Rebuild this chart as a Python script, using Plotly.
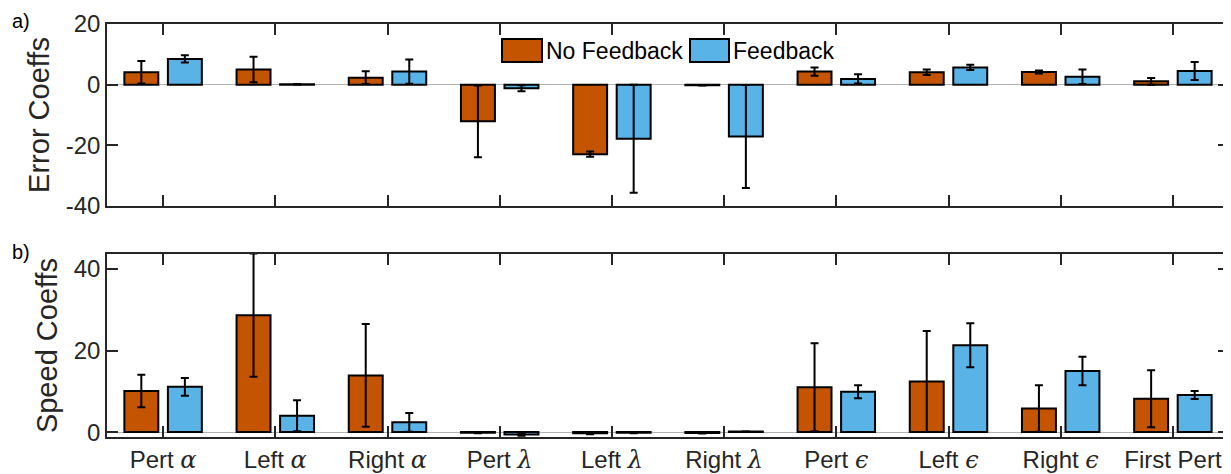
import plotly.graph_objects as go

# The page body has an 8px margin, so the figure is drawn 8px smaller and
# all layout pixel positions are shifted by that offset.
OFF = 8
W, H = 1231 - OFF, 474 - OFF

categories = ["Pert α", "Left α", "Right α", "Pert λ", "Left λ", "Right λ",
              "Pert ϵ", "Left ϵ", "Right ϵ", "First Pert"]

# panel a) Error coefficients
err_nofb = [4.1, 5.0, 2.3, -12.1, -22.9, -0.2, 4.3, 4.1, 4.2, 1.1]
err_nofb_sd = [3.7, 4.2, 2.1, 11.8, 0.9, 0.1, 1.4, 0.9, 0.5, 1.1]
err_fb = [8.5, 0.15, 4.3, -1.2, -17.8, -17.1, 1.9, 5.7, 2.6, 4.5]
err_fb_sd = [1.2, 0.1, 4.0, 1.0, 17.8, 17.0, 1.5, 0.9, 2.4, 3.0]

# panel b) Speed coefficients
spd_nofb = [10.1, 28.7, 13.9, -0.15, -0.3, -0.2, 11.0, 12.4, 5.8, 8.2]
spd_nofb_sd = [4.0, 15.1, 12.6, 0.1, 0.2, 0.15, 10.8, 12.4, 5.7, 7.0]
spd_fb = [11.1, 4.0, 2.4, -0.6, -0.15, 0.12, 9.9, 21.3, 15.0, 9.1]
spd_fb_sd = [2.2, 3.8, 2.3, 0.3, 0.1, 0.05, 1.6, 5.4, 3.5, 1.0]

err_ticks = [-40, -20, 0, 20]
err_ticktext = ["-40", "-20", "0", "20"]
spd_ticks = [0, 20, 40]

series_names = ["No Feedback", "Feedback"]
ORANGE = "#C45400"
BLUE = "#59B3E6"
TXT = "#262626"
FONT = "Liberation Sans, Arial, sans-serif"


def px(x):
    return (x - OFF) / W


def py(y):
    return 1 - (y - OFF) / H


def fmt(lbl):
    head, _, last = lbl.rpartition(" ")
    if last in ("α", "λ", "ϵ"):
        return (head + " <span style=\"font-family:'DejaVu Serif'\"><i>"
                + last + "</i></span>")
    return lbl


xpos = list(range(1, len(categories) + 1))
ticktext = [fmt(c) for c in categories]

fig = go.Figure()


def add_pair(vals_a, sd_a, vals_b, sd_b, xa, ya):
    for vals, sd, col, name in ((vals_a, sd_a, ORANGE, series_names[0]),
                                (vals_b, sd_b, BLUE, series_names[1])):
        fig.add_trace(go.Bar(
            x=xpos, y=vals, name=name, xaxis=xa, yaxis=ya,
            marker=dict(color=col, line=dict(color="black", width=2)),
            error_y=dict(type="data", array=sd, visible=True,
                         color="black", thickness=2, width=4),
            showlegend=False,
        ))


add_pair(err_nofb, err_nofb_sd, err_fb, err_fb_sd, "x", "y")
add_pair(spd_nofb, spd_nofb_sd, spd_fb, spd_fb_sd, "x2", "y2")

xdom = [px(107), px(1229)]
top_dom = [py(206), py(24)]
bot_dom = [py(437), py(254)]

axis_common = dict(showline=True, linecolor=TXT, linewidth=1.5, mirror="ticks",
                   ticks="inside", ticklen=11, tickwidth=1.5, tickcolor=TXT,
                   showgrid=False, automargin=False,
                   tickfont=dict(family=FONT, size=24, color=TXT))

fig.update_layout(
    width=W, height=H,
    margin=dict(l=0, r=0, t=0, b=0),
    paper_bgcolor="white", plot_bgcolor="white",
    barmode="group", bargap=0.224, bargroupgap=0.22,
    font=dict(family=FONT, color=TXT),
    xaxis=dict(domain=xdom, anchor="y", range=[0.5, 10.5], tickvals=xpos,
               showticklabels=False, zeroline=False, **axis_common),
    yaxis=dict(domain=top_dom, anchor="x", range=[-40, 20], tickvals=err_ticks,
               ticktext=err_ticktext, zeroline=True, zerolinecolor="#b3b3b3",
               zerolinewidth=1,
               title=dict(text="Error Coeffs", standoff=8,
                          font=dict(family=FONT, size=29, color=TXT)),
               **axis_common),
    xaxis2=dict(domain=xdom, anchor="y2", range=[0.5, 10.5], tickvals=xpos,
                ticktext=ticktext, zeroline=False, **axis_common),
    yaxis2=dict(domain=bot_dom, anchor="x2", range=[-1.2, 43.7],
                tickvals=spd_ticks, zeroline=True, zerolinecolor="#b3b3b3",
                zerolinewidth=1,
                title=dict(text="Speed Coeffs", standoff=8,
                           font=dict(family=FONT, size=29, color=TXT)),
                **axis_common),
)

# panel labels
for txt, yy in (("a)", 21), ("b)", 252)):
    fig.add_annotation(text=txt, xref="paper", yref="paper", x=px(10),
                       y=py(yy), xanchor="left", yanchor="middle",
                       showarrow=False, font=dict(family=FONT, size=20, color="black"))

# legend (drawn manually to match large swatches)
legend_items = [(series_names[0], ORANGE, 502, 542), (series_names[1], BLUE, 690, 729)]
for name, col, x0, x1 in legend_items:
    fig.add_shape(type="rect", xref="paper", yref="paper",
                  x0=px(x0), x1=px(x1), y0=py(62), y1=py(39),
                  fillcolor=col, line=dict(color="black", width=2))
    fig.add_annotation(text=name, xref="paper", yref="paper", x=px(x1 + 2),
                       y=py(51), xanchor="left", yanchor="middle",
                       showarrow=False, font=dict(family=FONT, size=23, color="black"))

fig.write_html("out.html")
